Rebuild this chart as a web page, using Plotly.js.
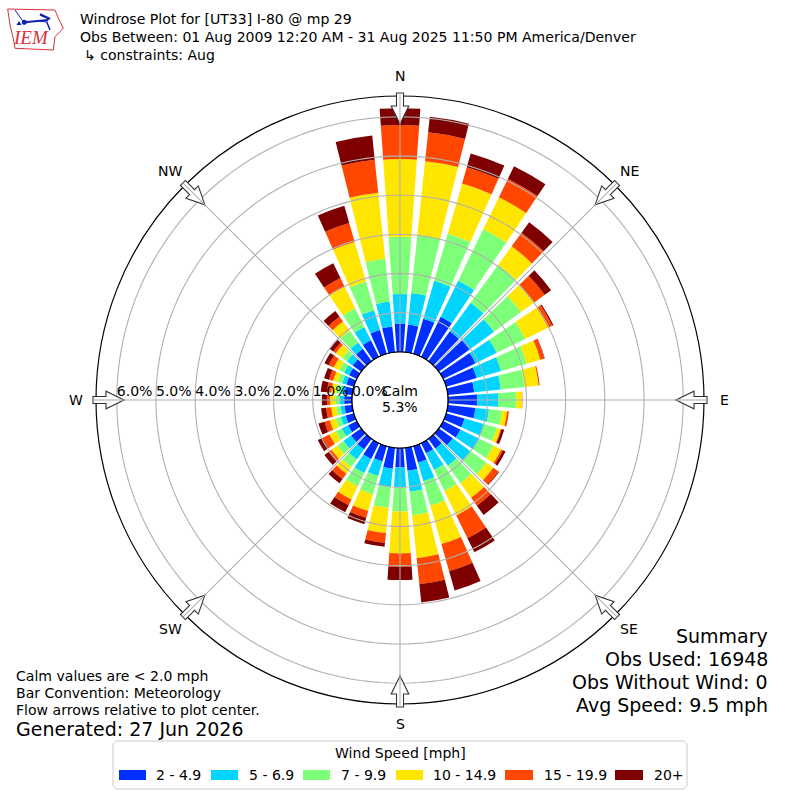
<!DOCTYPE html>
<html>
<head>
<meta charset="utf-8">
<script src="https://cdn.plot.ly/plotly-3.0.1.min.js"></script>
<style>html,body{margin:0;padding:0;background:#fff}#chart{width:800px;height:800px}</style>
</head>
<body>
<div id="chart"></div>
<script>
// ---------- data ----------
var directions = [0,10,20,30,40,50,60,70,80,90,100,110,120,130,140,150,160,170,180,190,200,210,220,230,240,250,260,270,280,290,300,310,320,330,340,350];
var speedBins = ['2 - 4.9','5 - 6.9','7 - 9.9','10 - 14.9','15 - 19.9','20+'];
var speedColors = ['#0030ff','#00d4ff','#7dff7a','#ffe600','#ff4700','#7f0000'];
var speed2to5 = [.73,.71,.93,1.14,.94,.97,.92,.81,.68,.75,.71,.49,.49,.44,.31,.29,.44,.59,.49,.54,.40,.45,.34,.32,.25,.22,.20,.20,.20,.20,.22,.27,.39,.47,.63,.66];
var speed5to7 = [.75,.81,1.01,1.02,.90,.77,.60,.65,.68,.53,.35,.51,.54,.55,.54,.47,.49,.54,.51,.48,.39,.40,.31,.24,.18,.13,.10,.12,.10,.11,.14,.18,.20,.38,.53,.64];
var speed7to10 = [1.46,1.48,1.25,1.46,1.20,.85,.81,.68,.61,.47,.33,.35,.40,.51,.55,.60,.65,.60,.62,.52,.49,.38,.24,.20,.17,.13,.11,.11,.12,.12,.14,.15,.37,.53,.76,1.10];
var speed10to15 = [1.98,1.90,1.33,.91,.58,.42,.65,.36,.36,.14,.13,.10,.22,.22,.46,.69,1.02,1.10,1.07,.65,.44,.37,.21,.18,.18,.16,.13,.13,.12,.12,.16,.20,.29,.62,1.05,1.69];
var speed15to20 = [.87,.74,.43,.52,.43,.33,.12,.11,.03,.01,.05,.02,.05,.16,.25,.65,.72,.67,.34,.25,.18,.16,.17,.09,.20,.14,.13,.08,.11,.11,.14,.08,.15,.24,.50,.85];
var speed20up = [.43,.40,.37,.36,.33,.20,.03,.01,0,0,0,.07,.07,.02,.29,.40,.51,.47,.34,.10,.17,.20,.13,.13,.13,.16,.13,.13,.16,.13,.12,.11,.18,.42,.46,.62];
var speedValues = [speed2to5,speed5to7,speed7to10,speed10to15,speed15to20,speed20up];
var ringValues = [0,1,2,3,4,5,6];
var ringLabels = ['0.0%','1.0%','2.0%','3.0%','4.0%','5.0%','6.0%'];
var compassAngles = [0,45,90,135,180,225,270,315];
var compassNames = ['N','NE','E','SE','S','SW','W','NW'];

// ---------- helpers ----------
var FONT = 'DejaVu Sans';
var GRID = '#b0b0b0';
var CX = 400, CY = 400;
var RMAX = 6.53;
var SMALL = 14.05, BIG = 19;
function px(x){return x/800;}
function py(y){return 1-y/800;}
function note(text,x,y,size,xanchor,extra){
  var a = {text:text,xref:'paper',yref:'paper',x:px(x),y:py(y),showarrow:false,xanchor:xanchor||'left',yanchor:'middle',
    font:{family:FONT,size:size,color:'#000'},borderpad:0,borderwidth:0};
  if(extra){for(var k in extra){a[k]=extra[k];}}
  return a;
}
function pathOf(points,close){
  var s = points.map(function(p,i){return (i?'L':'M')+px(p[0]).toFixed(5)+','+py(p[1]).toFixed(5);}).join(' ');
  return s+(close?' Z':'');
}

// ---------- traces ----------
var traces = speedBins.map(function(name,i){
  return {type:'barpolar',name:name,r:speedValues[i],theta:directions,width:8,
    marker:{color:speedColors[i],line:{width:0}},showlegend:false,hoverinfo:'theta+r+name'};
});
var circleAngles = [];
for(var a=0;a<=360;a+=2){circleAngles.push(a);}
ringValues.slice(1).forEach(function(v){
  traces.push({type:'scatterpolar',mode:'lines',r:circleAngles.map(function(){return v;}),theta:circleAngles,
    line:{color:GRID,width:1.1},showlegend:false,hoverinfo:'skip'});
});
compassAngles.forEach(function(t){
  traces.push({type:'scatterpolar',mode:'lines',r:[0,RMAX],theta:[t,t],
    line:{color:GRID,width:1.1},showlegend:false,hoverinfo:'skip'});
});
traces.push({type:'scatterpolar',mode:'lines',r:circleAngles.map(function(){return 0;}),theta:circleAngles,
  line:{color:'#000',width:1.2},showlegend:false,hoverinfo:'skip'});
traces.push({type:'scatterpolar',mode:'text',r:ringValues,theta:ringValues.map(function(){return 270;}),text:ringLabels,
  textposition:'top right',textfont:{family:FONT,size:SMALL,color:'#000'},cliponaxis:false,showlegend:false,hoverinfo:'skip'});

// ---------- arrows, legend, logo ----------
var shapes = [];
compassAngles.forEach(function(t){
  var c = Math.cos(t*Math.PI/180), s = Math.sin(t*Math.PI/180);
  function P(r,w){return [CX+r*s+w*c, CY-r*c+w*s];}
  shapes.push({type:'path',xref:'paper',yref:'paper',path:pathOf([P(307,-3.5),P(307,3.5),P(294,3.5),P(294,8.8),P(276,0),P(294,-8.8),P(294,-3.5)],true),
    fillcolor:'#fff',line:{color:'#333',width:1.1}});
  var p1=P(307,0),p2=P(276,0);
  shapes.push({type:'line',xref:'paper',yref:'paper',x0:px(p1[0]),y0:py(p1[1]),x1:px(p2[0]),y1:py(p2[1]),line:{color:GRID,width:1.1}});
});
// legend box
var bx0=113,bx1=687,by0=741,by1=789,rd=3;
shapes.push({type:'path',xref:'paper',yref:'paper',
  path:pathOf([[bx0+rd,by0],[bx1-rd,by0],[bx1,by0+rd],[bx1,by1-rd],[bx1-rd,by1],[bx0+rd,by1],[bx0,by1-rd],[bx0,by0+rd]],true),
  fillcolor:'#fff',line:{color:'#ccc',width:1}});
var swatchLeft=[119,211,303,396,505,615], swatchRight=[146,238,330,423,533,643], legendTextLeft=[156,249,341,433,544,654];
speedBins.forEach(function(name,i){
  shapes.push({type:'rect',xref:'paper',yref:'paper',x0:px(swatchLeft[i]),x1:px(swatchRight[i]),y0:py(780),y1:py(770),
    fillcolor:speedColors[i],line:{width:0}});
});
// logo
var RED='#d8303c', BLUE='#1020b0';
shapes.push({type:'path',xref:'paper',yref:'paper',path:pathOf([[7.7,9],[55,10],[57.7,16.7],[63.3,28.3],[55,36.7],[53.3,50],[15,48.3],[13.3,38.3],[10,25]],true),
  fillcolor:'rgba(0,0,0,0)',line:{color:RED,width:1}});
[[[24.3,22.3],[48.3,20],2],[[15,10],[23.3,21.7],1],[[40,14.3],[50,19],2.4],[[46.7,21.7],[50,30],1.5],[[47,22],[38,21],1]].forEach(function(l){
  shapes.push({type:'line',xref:'paper',yref:'paper',x0:px(l[0][0]),y0:py(l[0][1]),x1:px(l[1][0]),y1:py(l[1][1]),line:{color:BLUE,width:l[2]}});
});
shapes.push({type:'circle',xref:'paper',yref:'paper',x0:px(21.8),x1:px(26.8),y0:py(24.8),y1:py(19.8),fillcolor:BLUE,line:{width:0}});
shapes.push({type:'path',xref:'paper',yref:'paper',path:pathOf([[19,21],[21.5,25],[16.5,25]],true),fillcolor:BLUE,line:{width:0}});

// ---------- text ----------
var annotations = [
  note('Windrose Plot for [UT33] I-80 @ mp 29',80,19,SMALL),
  note('Obs Between: 01 Aug 2009 12:20 AM - 31 Aug 2025 11:50 PM America/Denver',80,37,SMALL),
  note('\u21B3 constraints: Aug',84,55,SMALL),
  note('<i>IEM</i>',30.7,38,19,'center',{font:{family:'Liberation Serif',size:19,color:RED}}),
  note('Calm',400,391,SMALL,'center'),
  note('5.3%',400,407,SMALL,'center'),
  note('Calm values are &lt; 2.0 mph',16,676,SMALL),
  note('Bar Convention: Meteorology',16,693,SMALL),
  note('Flow arrows relative to plot center.',16,710,SMALL),
  note('Generated: 27 Jun 2026',16,729,BIG),
  note('Summary',768,636,BIG,'right'),
  note('Obs Used: 16948',768,659,BIG,'right'),
  note('Obs Without Wind: 0',768,682,BIG,'right'),
  note('Avg Speed: 9.5 mph',768,705,BIG,'right'),
  note('Wind Speed [mph]',400,753,SMALL,'center')
];
speedBins.forEach(function(name,i){annotations.push(note(name,legendTextLeft[i],775,SMALL));});
compassNames.forEach(function(name,i){
  var t = compassAngles[i]*Math.PI/180;
  annotations.push(note(name,CX+324*Math.sin(t),CY-324*Math.cos(t),SMALL,'center'));
});

var layout = {
  width:800,height:800,margin:{l:0,r:0,t:0,b:0},paper_bgcolor:'#fff',showlegend:false,
  font:{family:FONT,size:SMALL,color:'#000'},
  polar:{
    domain:{x:[96/800,704/800],y:[96/800,704/800]},
    bgcolor:'rgba(0,0,0,0)',barmode:'stack',hole:48/304,
    radialaxis:{range:[0,RMAX],showgrid:false,showline:false,showticklabels:false,ticks:''},
    angularaxis:{direction:'clockwise',rotation:90,tickmode:'array',tickvals:compassAngles,ticktext:compassNames,
      showgrid:false,showline:true,linecolor:'#000',linewidth:1.2,ticks:'',showticklabels:false}
  },
  shapes:shapes,annotations:annotations
};
Plotly.newPlot('chart',traces,layout,{staticPlot:true,displayModeBar:false});
</script>
</body>
</html>
